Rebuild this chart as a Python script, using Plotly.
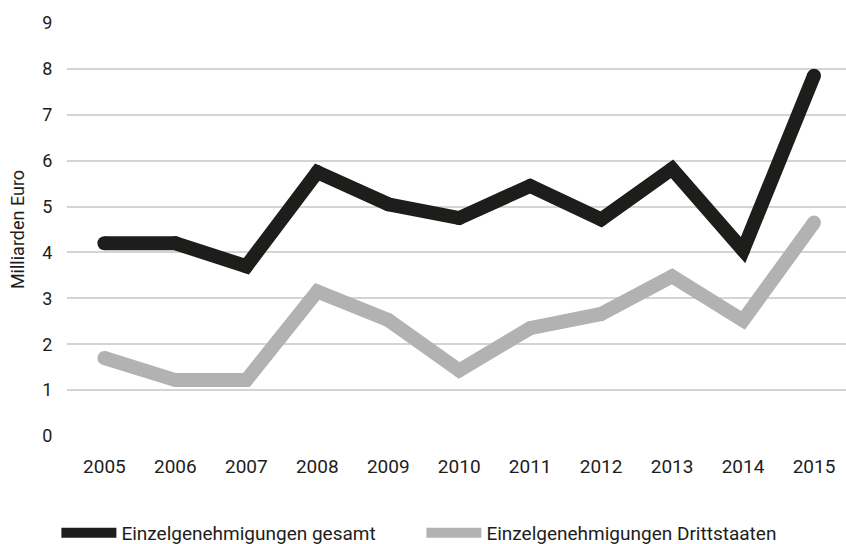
import plotly.graph_objects as go

years = [2005, 2006, 2007, 2008, 2009, 2010, 2011, 2012, 2013, 2014, 2015]
gesamt = [4.2, 4.2, 3.7, 5.75, 5.05, 4.75, 5.45, 4.72, 5.82, 4.05, 7.85]
drittstaaten = [1.7, 1.22, 1.22, 3.15, 2.53, 1.43, 2.35, 2.66, 3.48, 2.52, 4.65]
y_ticks = list(range(0, 10))
series_names = ["Einzelgenehmigungen gesamt", "Einzelgenehmigungen Drittstaaten"]

font_family = "Roboto, sans-serif"
dark = "#1d1d1b"
grey = "#b2b2b2"
LW = 14

fig = go.Figure()
for vals, name, col in [(gesamt, series_names[0], dark), (drittstaaten, series_names[1], grey)]:
    fig.add_trace(go.Scatter(x=years, y=vals, mode="lines", name=name,
                             line=dict(color=col, width=LW), hoverinfo="skip"))
    # round caps / joins
    fig.add_trace(go.Scatter(x=years, y=vals, mode="markers", showlegend=False,
                             marker=dict(color=col, size=LW, line=dict(width=0)),
                             hoverinfo="skip"))

fig.update_layout(
    width=846, height=544,
    margin=dict(l=67, r=0, t=22, b=107, autoexpand=False),
    paper_bgcolor="white", plot_bgcolor="white",
    font=dict(family=font_family, color=dark, size=19),
    showlegend=True,
    legend=dict(orientation="h", x=-0.0136, xanchor="left", y=-0.185, yanchor="top",
                font=dict(size=19, color=dark), itemwidth=55, traceorder="normal",
                entrywidth=295, entrywidthmode="pixels"),
    xaxis=dict(range=[2004.473, 2015.451], tickvals=years, ticktext=[str(y) for y in years],
               showgrid=False, zeroline=False, showline=False, automargin=False,
               ticks="outside", ticklen=12, tickcolor="rgba(0,0,0,0)",
               tickfont=dict(size=19, color=dark)),
    yaxis=dict(range=[-0.02, 9.02], tickvals=y_ticks, showgrid=True, gridcolor="#d4d4d4",
               gridwidth=1.5, zeroline=False, showline=False, automargin=False,
               ticks="outside", ticklen=10, tickcolor="rgba(0,0,0,0)",
               tickfont=dict(size=18, color=dark),
               title=dict(text="Milliarden Euro", font=dict(size=18, color=dark), standoff=12)),
)

fig.write_html("out.html", config={"displayModeBar": False},
               post_script="document.body.style.margin='0';document.body.style.padding='0';")
